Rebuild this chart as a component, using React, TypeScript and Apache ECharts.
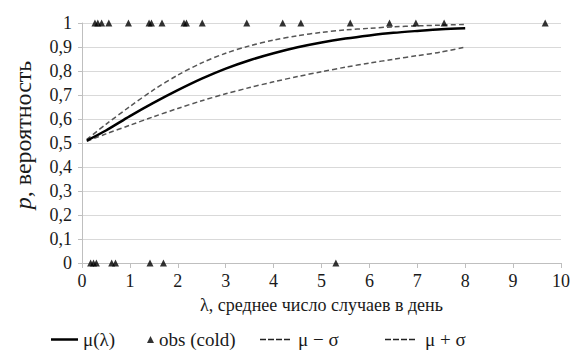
import React, { useEffect, useRef } from "react";
import * as echarts from "echarts";

const lambdaGrid = [0.1, 0.5, 1, 1.5, 2, 2.5, 3, 3.5, 4, 4.5, 5, 5.5, 6, 6.5, 7, 7.5, 8];
const muValues = [0.51, 0.552, 0.612, 0.668, 0.72, 0.768, 0.81, 0.845, 0.874, 0.899, 0.919, 0.935, 0.948, 0.959, 0.967, 0.974, 0.978];
const muMinusSigma = [0.507, 0.538, 0.574, 0.61, 0.644, 0.676, 0.705, 0.731, 0.755, 0.777, 0.797, 0.816, 0.833, 0.849, 0.864, 0.879, 0.9];
const muPlusSigma = [0.515, 0.578, 0.652, 0.722, 0.783, 0.834, 0.874, 0.905, 0.929, 0.947, 0.961, 0.971, 0.978, 0.984, 0.988, 0.991, 0.994];
const obsColdOne = [0.27, 0.33, 0.41, 0.56, 0.97, 1.4, 1.45, 1.67, 2.13, 2.18, 2.51, 3.44, 4.19, 4.57, 5.6, 6.42, 6.97, 7.56, 9.67];
const obsColdZero = [0.18, 0.24, 0.3, 0.62, 0.7, 1.42, 1.7, 5.3];
const xTicks = [0, 1, 2, 3, 4, 5, 6, 7, 8, 9, 10];

const FONT = "Liberation Serif, serif";
const TXT = "#1a1a1a";
const DASH_ICON = "path://M0,0h6v2h-6z M8,0h6v2h-6z M16,0h6v2h-6z M24,0h6v2h-6z";

export default function App() {
  const ref = useRef<HTMLDivElement>(null);
  useEffect(() => {
    if (!ref.current) return;
    const chart = echarts.init(ref.current, null, { renderer: "svg" });
    const pair = (xs: number[], ys: number[]) => xs.map((x, i) => [x, ys[i]]);
    const obsData = [
      ...obsColdOne.map((x) => [x, 1]),
      ...obsColdZero.map((x) => [x, 0]),
    ];
    const tickStyle = { fontFamily: FONT, fontSize: 18, color: TXT };
    const legendText = { fontFamily: FONT, fontSize: 19, color: TXT };
    const legendBase = {
      selectedMode: false as const,
      symbolKeepAspect: false,
      padding: 0,
      top: 330,
      textStyle: legendText,
    };
    chart.setOption({
      animation: false,
      textStyle: { fontFamily: FONT },
      grid: { left: 82, right: 24, top: 23, bottom: 100 },
      graphic: [
        {
          type: "text",
          x: 23,
          y: 135,
          rotation: Math.PI / 2,
          style: {
            text: "{i|p}, вероятность",
            fontFamily: FONT,
            fontSize: 24,
            fill: TXT,
            align: "center",
            verticalAlign: "middle",
            rich: { i: { fontFamily: FONT, fontSize: 24, fontStyle: "italic", fill: TXT, color: TXT } },
          },
        },
      ],
      xAxis: {
        type: "value",
        min: xTicks[0],
        max: xTicks[xTicks.length - 1],
        interval: 1,
        name: "λ, среднее число случаев в день",
        nameLocation: "middle",
        nameGap: 33,
        nameTextStyle: { fontFamily: FONT, fontSize: 18, color: TXT },
        axisLine: { show: true, lineStyle: { color: "#bfbfbf", width: 1 } },
        axisTick: { show: true, length: 5, lineStyle: { color: "#bfbfbf" } },
        axisLabel: { ...tickStyle, margin: 9 },
        splitLine: { show: false },
      },
      yAxis: {
        type: "value",
        min: 0,
        max: 1,
        interval: 0.1,
        axisLine: { show: true, lineStyle: { color: "#bfbfbf", width: 1 } },
        axisTick: { show: true, length: 4, lineStyle: { color: "#bfbfbf" } },
        axisLabel: {
          ...tickStyle,
          margin: 10,
          formatter: (v: number) => String(Math.round(v * 10) / 10).replace(".", ","),
        },
        splitLine: { show: true, lineStyle: { color: "#d9d9d9", width: 1 } },
      },
      legend: [
        { ...legendBase, left: 51, itemWidth: 27, itemHeight: 2.5, itemStyle: { color: "#000" }, data: [{ name: "μ(λ)", icon: "rect" }] },
        { ...legendBase, left: 147, itemWidth: 7, itemHeight: 7, itemStyle: { color: "#000" }, data: [{ name: "obs (cold)", icon: "triangle" }] },
        { ...legendBase, left: 260, itemWidth: 30, itemHeight: 1.5, itemStyle: { color: "#222" }, data: [{ name: "μ − σ", icon: DASH_ICON }], textStyle: { ...legendText, padding: [0, 0, 0, 3] } },
        { ...legendBase, left: 385, itemWidth: 30, itemHeight: 1.5, itemStyle: { color: "#222" }, data: [{ name: "μ + σ", icon: DASH_ICON }], textStyle: { ...legendText, padding: [0, 0, 0, 5] } },
      ],
      series: [
        {
          name: "μ − σ",
          type: "line",
          data: pair(lambdaGrid, muMinusSigma),
          smooth: 0.3,
          symbol: "none",
          lineStyle: { color: "#555", width: 1.5, type: [5, 3] },
          itemStyle: { color: "#555" },
          z: 2,
        },
        {
          name: "μ + σ",
          type: "line",
          data: pair(lambdaGrid, muPlusSigma),
          smooth: 0.3,
          symbol: "none",
          lineStyle: { color: "#555", width: 1.5, type: [5, 3] },
          itemStyle: { color: "#555" },
          z: 2,
        },
        {
          name: "μ(λ)",
          type: "line",
          data: pair(lambdaGrid, muValues),
          smooth: 0.3,
          symbol: "none",
          lineStyle: { color: "#000", width: 2.5 },
          itemStyle: { color: "#000" },
          z: 3,
        },
        {
          name: "obs (cold)",
          type: "scatter",
          data: obsData,
          symbol: "triangle",
          symbolSize: 7,
          itemStyle: { color: "#000" },
          clip: false,
          z: 4,
        },
      ],
    });
    return () => chart.dispose();
  }, []);
  return <div ref={ref} style={{ width: 585, height: 363, position: "absolute", left: 0, top: 0 }} />;
}
